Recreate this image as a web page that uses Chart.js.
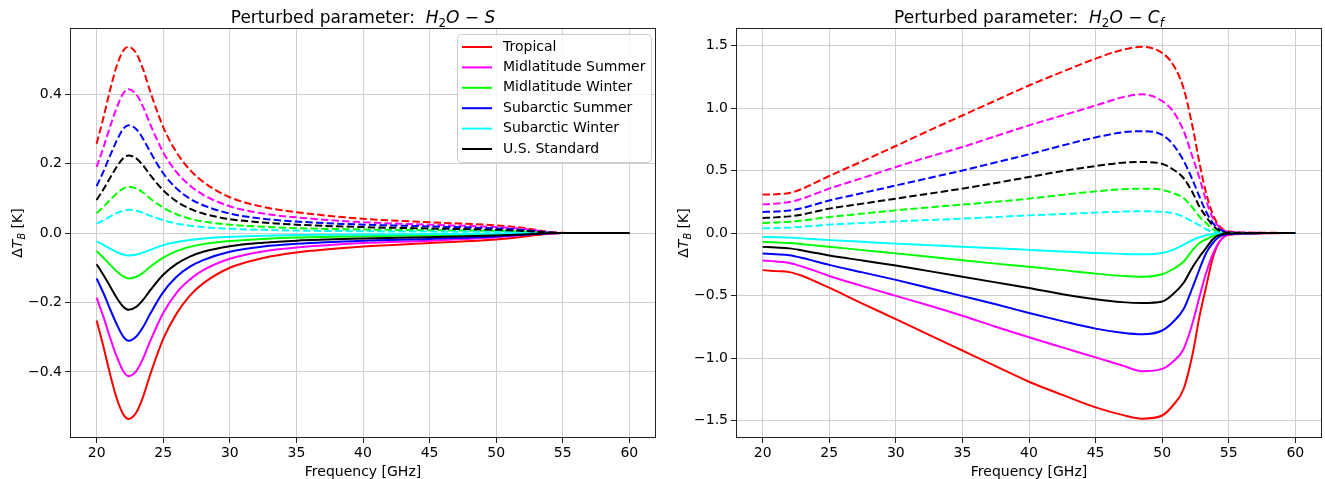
<!DOCTYPE html>
<html>
<head>
<meta charset="utf-8">
<script src="https://cdn.jsdelivr.net/npm/chart.js@4.4.1/dist/chart.umd.min.js"></script>
<style>
  body { margin: 0; background: #fff; }
  .panel { position: absolute; top: 0; }
  #panelS { left: 0; }
  #panelC { left: 662px; }
</style>
</head>
<body>
<div class="panel" id="panelS"><canvas id="chartS" width="662" height="479"></canvas></div>
<div class="panel" id="panelC"><canvas id="chartC" width="663" height="479"></canvas></div>
<script>
const profiles = ["Tropical", "Midlatitude Summer", "Midlatitude Winter", "Subarctic Summer", "Subarctic Winter", "U.S. Standard"];
const colors = ["#ff0000", "#ff00ff", "#00ff00", "#0000ff", "#00ffff", "#000000"];

const xTicks = [20, 25, 30, 35, 40, 45, 50, 55, 60];
const yTicksS = [-0.4, -0.2, 0, 0.2, 0.4];
const yTicksC = [-1.5, -1.0, -0.5, 0, 0.5, 1.0, 1.5];

// H2O-S perturbation, left panel
const freqS = [20, 20.5, 21, 21.5, 22, 22.4, 23, 23.5, 24, 25, 26, 27, 28, 30, 32.5, 35, 40, 45, 50, 52, 53, 54, 55, 57.5, 60];

const sPlusTrop = [0.257, 0.33, 0.41, 0.48, 0.525, 0.536, 0.515, 0.47, 0.41, 0.305, 0.232, 0.182, 0.147, 0.103, 0.075, 0.06, 0.041, 0.031, 0.022, 0.015, 0.009, 0.003, 0.0005, 0, 0];
const sPlusMls  = [0.19, 0.245, 0.305, 0.36, 0.402, 0.414, 0.398, 0.362, 0.315, 0.232, 0.175, 0.137, 0.11, 0.077, 0.056, 0.045, 0.031, 0.024, 0.017, 0.012, 0.007, 0.002, 0, 0, 0];
const sPlusMlw  = [0.057, 0.075, 0.095, 0.114, 0.128, 0.133, 0.128, 0.116, 0.1, 0.073, 0.054, 0.041, 0.033, 0.024, 0.018, 0.014, 0.01, 0.008, 0.006, 0.004, 0.002, 0.001, 0, 0, 0];
const sPlusSas  = [0.135, 0.176, 0.222, 0.265, 0.3, 0.31, 0.298, 0.27, 0.235, 0.172, 0.128, 0.099, 0.08, 0.056, 0.041, 0.033, 0.024, 0.019, 0.013, 0.009, 0.005, 0.002, 0, 0, 0];
const sPlusSaw  = [0.027, 0.036, 0.047, 0.057, 0.064, 0.067, 0.064, 0.058, 0.05, 0.037, 0.027, 0.021, 0.017, 0.012, 0.009, 0.007, 0.005, 0.004, 0.003, 0.002, 0.001, 0, 0, 0, 0];
const sPlusUss  = [0.095, 0.125, 0.158, 0.19, 0.215, 0.223, 0.214, 0.194, 0.168, 0.123, 0.091, 0.07, 0.056, 0.04, 0.03, 0.024, 0.017, 0.013, 0.009, 0.006, 0.004, 0.001, 0, 0, 0];

const sMinusTrop = [-0.252, -0.325, -0.405, -0.475, -0.522, -0.535, -0.515, -0.47, -0.41, -0.305, -0.232, -0.18, -0.145, -0.1, -0.072, -0.056, -0.039, -0.029, -0.019, -0.011, -0.006, -0.002, 0, 0, 0];
const sMinusMls  = [-0.186, -0.24, -0.3, -0.355, -0.398, -0.412, -0.396, -0.36, -0.313, -0.23, -0.172, -0.134, -0.107, -0.074, -0.053, -0.042, -0.029, -0.022, -0.012, -0.006, -0.003, -0.001, 0, 0, 0];
const sMinusMlw  = [-0.052, -0.071, -0.091, -0.11, -0.125, -0.131, -0.126, -0.114, -0.098, -0.071, -0.052, -0.04, -0.032, -0.023, -0.017, -0.013, -0.009, -0.007, -0.004, -0.002, -0.001, 0, 0, 0, 0];
const sMinusSas  = [-0.131, -0.172, -0.218, -0.262, -0.298, -0.31, -0.297, -0.27, -0.234, -0.17, -0.126, -0.097, -0.078, -0.054, -0.039, -0.031, -0.022, -0.017, -0.01, -0.005, -0.003, -0.001, 0, 0, 0];
const sMinusSaw  = [-0.024, -0.034, -0.045, -0.055, -0.062, -0.065, -0.062, -0.056, -0.049, -0.035, -0.026, -0.02, -0.016, -0.011, -0.008, -0.006, -0.004, -0.003, -0.002, -0.001, 0, 0, 0, 0, 0];
const sMinusUss  = [-0.09, -0.12, -0.153, -0.186, -0.212, -0.221, -0.212, -0.192, -0.166, -0.12, -0.089, -0.068, -0.054, -0.038, -0.028, -0.022, -0.016, -0.012, -0.007, -0.004, -0.002, 0, 0, 0, 0];

// H2O-Cf perturbation, right panel
const freqC = [20, 21, 22, 23, 24, 25, 27.5, 30, 32.5, 35, 37.5, 40, 42.5, 45, 47, 48.5, 50, 50.8, 51.6, 52.3, 52.8, 53.3, 53.8, 54.3, 55, 57.5, 60];

const cPlusTrop = [0.307, 0.31, 0.32, 0.355, 0.405, 0.456, 0.575, 0.696, 0.82, 0.94, 1.06, 1.18, 1.29, 1.395, 1.465, 1.49, 1.44, 1.35, 1.16, 0.84, 0.56, 0.32, 0.15, 0.055, 0.012, 0.002, 0];
const cPlusMls  = [0.229, 0.235, 0.248, 0.275, 0.315, 0.355, 0.44, 0.528, 0.61, 0.688, 0.775, 0.861, 0.94, 1.02, 1.085, 1.11, 1.056, 0.976, 0.82, 0.6, 0.44, 0.26, 0.12, 0.045, 0.008, 0.001, 0];
const cPlusMlw  = [0.08, 0.084, 0.09, 0.1, 0.115, 0.128, 0.155, 0.181, 0.205, 0.227, 0.25, 0.275, 0.305, 0.333, 0.35, 0.355, 0.345, 0.32, 0.28, 0.2, 0.13, 0.08, 0.03, 0.01, 0.001, 0, 0];
const cPlusSas  = [0.168, 0.172, 0.18, 0.2, 0.23, 0.26, 0.32, 0.38, 0.44, 0.5, 0.565, 0.63, 0.7, 0.765, 0.805, 0.815, 0.785, 0.71, 0.58, 0.42, 0.29, 0.17, 0.08, 0.03, 0.005, 0, 0];
const cPlusSaw  = [0.037, 0.039, 0.043, 0.05, 0.058, 0.067, 0.08, 0.093, 0.104, 0.115, 0.128, 0.141, 0.152, 0.163, 0.171, 0.174, 0.17, 0.16, 0.13, 0.09, 0.063, 0.03, 0.01, 0.004, 0, 0, 0];
const cPlusUss  = [0.12, 0.125, 0.133, 0.148, 0.172, 0.195, 0.235, 0.275, 0.315, 0.355, 0.4, 0.448, 0.495, 0.536, 0.562, 0.568, 0.553, 0.51, 0.44, 0.32, 0.21, 0.13, 0.06, 0.02, 0.003, 0, 0];

const cMinusTrop = [-0.297, -0.305, -0.313, -0.344, -0.39, -0.437, -0.565, -0.689, -0.815, -0.94, -1.065, -1.19, -1.295, -1.395, -1.455, -1.485, -1.46, -1.38, -1.25, -0.96, -0.667, -0.43, -0.2, -0.07, -0.015, -0.003, 0];
const cMinusMls  = [-0.22, -0.228, -0.24, -0.27, -0.305, -0.344, -0.425, -0.503, -0.58, -0.662, -0.75, -0.834, -0.915, -0.995, -1.06, -1.105, -1.087, -1.03, -0.93, -0.714, -0.51, -0.32, -0.17, -0.07, -0.012, -0.002, 0];
const cMinusMlw  = [-0.072, -0.075, -0.08, -0.09, -0.1, -0.11, -0.137, -0.163, -0.19, -0.218, -0.245, -0.27, -0.297, -0.325, -0.343, -0.35, -0.33, -0.29, -0.23, -0.135, -0.08, -0.05, -0.025, -0.008, -0.002, 0, 0];
const cMinusSas  = [-0.164, -0.17, -0.178, -0.2, -0.228, -0.255, -0.315, -0.375, -0.44, -0.505, -0.57, -0.64, -0.705, -0.765, -0.798, -0.81, -0.78, -0.714, -0.61, -0.43, -0.29, -0.16, -0.08, -0.03, -0.008, -0.001, 0];
const cMinusSaw  = [-0.032, -0.034, -0.037, -0.043, -0.05, -0.057, -0.07, -0.085, -0.097, -0.11, -0.122, -0.135, -0.148, -0.16, -0.167, -0.17, -0.16, -0.135, -0.095, -0.056, -0.034, -0.018, -0.008, -0.003, 0, 0, 0];
const cMinusUss  = [-0.111, -0.116, -0.123, -0.14, -0.16, -0.18, -0.22, -0.26, -0.305, -0.35, -0.395, -0.44, -0.49, -0.53, -0.553, -0.56, -0.548, -0.49, -0.4, -0.27, -0.19, -0.12, -0.05, -0.015, -0.004, 0, 0];

const FONT = '"DejaVu Sans", sans-serif';
const TEXT_SIZE = 14;
const TITLE_SIZE = 17;

function fmtTick(v) {
  return (v < 0 ? "\u2212" : "") + Math.abs(v).toFixed(1);
}

function pts(xs, ys) {
  return xs.map((x, i) => ({ x: x, y: ys[i] }));
}

function buildDatasets(freq, plus, minus) {
  const sets = [];
  profiles.forEach((name, i) => {
    sets.push({
      label: name,
      data: pts(freq, minus[i]),
      borderColor: colors[i],
      borderWidth: 2,
      order: 2 * (profiles.length - i),
    });
    sets.push({
      label: name + " (+)",
      data: pts(freq, plus[i]),
      borderColor: colors[i],
      borderWidth: 2,
      borderDash: [7.4, 3.2],
      order: 2 * (profiles.length - i) - 1,
    });
  });
  return sets;
}

// mixed upright / italic / subscript text runs: [text, italic, subscript]
function runFont(r, size) {
  return (r[1] ? "italic " : "") + (r[2] ? size * 0.7 : size) + "px " + FONT;
}
function drawRuns(ctx, runs, cx, baseline, size) {
  const widths = runs.map(r => { ctx.font = runFont(r, size); return ctx.measureText(r[0]).width; });
  let x = cx - widths.reduce((a, b) => a + b, 0) / 2;
  runs.forEach((r, i) => {
    ctx.font = runFont(r, size);
    ctx.fillText(r[0], x, baseline + (r[2] ? size * 0.22 : 0));
    x += widths[i];
  });
}

const decorations = {
  id: "decorations",
  afterDatasetsDraw(chart, args, opts) {
    const ctx = chart.ctx;
    const a = chart.chartArea;
    ctx.save();
    // frame on all four sides
    ctx.strokeStyle = "#222";
    ctx.lineWidth = 1;
    ctx.strokeRect(Math.round(a.left) + 0.5, Math.round(a.top) + 0.5, Math.round(a.right - a.left) - 1, Math.round(a.bottom - a.top) - 1);

    ctx.fillStyle = "#000";
    ctx.textAlign = "left";
    ctx.textBaseline = "alphabetic";
    const cx = (a.left + a.right) / 2;
    drawRuns(ctx, opts.title, cx, 23, TITLE_SIZE);
    drawRuns(ctx, [["Frequency [GHz]", false, false]], cx, 475.5, TEXT_SIZE);

    ctx.save();
    ctx.translate(opts.ylabelX, (a.top + a.bottom) / 2);
    ctx.rotate(-Math.PI / 2);
    drawRuns(ctx, [["\u0394", false, false], ["T", true, false], ["B", true, true], [" [K]", false, false]], 0, 5, TEXT_SIZE);
    ctx.restore();

    if (opts.legend) {
      const bx = 457.5, by = 34.5, bw = 194, bh = 128;
      ctx.fillStyle = "rgba(255,255,255,0.8)";
      ctx.strokeStyle = "#cccccc";
      ctx.beginPath();
      ctx.roundRect(bx, by, bw, bh, 4);
      ctx.fill();
      ctx.stroke();
      ctx.font = TEXT_SIZE + "px " + FONT;
      ctx.textBaseline = "middle";
      profiles.forEach((name, i) => {
        const y = 47 + i * 20.4;
        ctx.strokeStyle = colors[i];
        ctx.lineWidth = 2;
        ctx.beginPath();
        ctx.moveTo(462, y);
        ctx.lineTo(492, y);
        ctx.stroke();
        ctx.fillStyle = "#000";
        ctx.fillText(name, 503, y);
      });
    }
    ctx.restore();
  }
};

function makeChart(id, freq, plus, minus, yMax, yTicks, yWidth, padRight, deco) {
  return new Chart(document.getElementById(id), {
    type: "line",
    data: { datasets: buildDatasets(freq, plus, minus) },
    options: {
      responsive: false,
      animation: false,
      layout: { padding: { top: 28, right: padRight, left: 0, bottom: 0 } },
      elements: {
        point: { radius: 0 },
        line: { cubicInterpolationMode: "monotone", fill: false },
      },
      plugins: {
        legend: { display: false },
        tooltip: { enabled: false },
        decorations: deco,
      },
      scales: {
        x: {
          type: "linear",
          min: 18,
          max: 62,
          afterBuildTicks: s => { s.ticks = xTicks.map(v => ({ value: v })); },
          afterFit: s => { s.height = 41; },
          grid: { color: "#cfcfcf", lineWidth: 1, tickLength: 5, tickColor: "#222" },
          border: { display: false },
          ticks: { color: "#000", font: { family: FONT, size: TEXT_SIZE }, padding: 2, maxRotation: 0, callback: v => String(v) },
        },
        y: {
          type: "linear",
          min: -yMax,
          max: yMax,
          afterBuildTicks: s => { s.ticks = yTicks.map(v => ({ value: v })); },
          afterFit: s => { s.width = yWidth; },
          grid: { color: "#cfcfcf", lineWidth: 1, tickLength: 5, tickColor: "#222" },
          border: { display: false },
          ticks: { color: "#000", font: { family: FONT, size: TEXT_SIZE }, padding: 3, callback: fmtTick },
        },
      },
    },
    plugins: [decorations],
  });
}

makeChart("chartS", freqS,
  [sPlusTrop, sPlusMls, sPlusMlw, sPlusSas, sPlusSaw, sPlusUss],
  [sMinusTrop, sMinusMls, sMinusMlw, sMinusSas, sMinusSaw, sMinusUss],
  0.59, yTicksS, 70, 6,
  { title: [["Perturbed parameter:  ", false, false], ["H", true, false], ["2", false, true], ["O", true, false], [" \u2212 ", false, false], ["S", true, false]], ylabelX: 17, legend: true });

makeChart("chartC", freqC,
  [cPlusTrop, cPlusMls, cPlusMlw, cPlusSas, cPlusSaw, cPlusUss],
  [cMinusTrop, cMinusMls, cMinusMlw, cMinusSas, cMinusSaw, cMinusUss],
  1.64, yTicksC, 74, 3,
  { title: [["Perturbed parameter:  ", false, false], ["H", true, false], ["2", false, true], ["O", true, false], [" \u2212 ", false, false], ["C", true, false], ["f", true, true]], ylabelX: 21, legend: false });
</script>
</body>
</html>
